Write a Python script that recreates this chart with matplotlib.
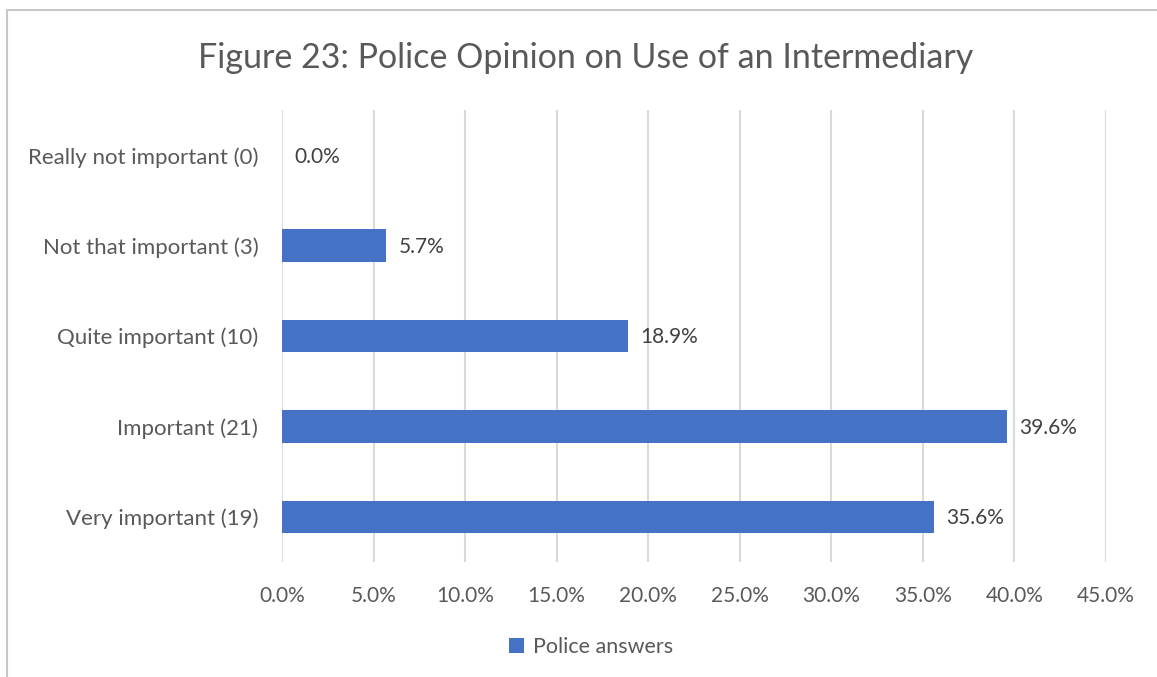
import matplotlib.pyplot as plt
from matplotlib.lines import Line2D
from matplotlib.ticker import FuncFormatter, MultipleLocator

TITLE = "Figure 23: Police Opinion on Use of an Intermediary"
SERIES_NAME = "Police answers"
CATEGORIES = [
    "Very important (19)",
    "Important (21)",
    "Quite important (10)",
    "Not that important (3)",
    "Really not important (0)",
]
PERCENTAGES = [35.6, 39.6, 18.9, 5.7, 0.0]

BAR_COLOR = "#4472C4"
TEXT_COLOR = "#595959"
GRID_COLOR = "#D9D9D9"

plt.rcParams["font.family"] = ["Lato", "DejaVu Sans"]

fig = plt.figure(figsize=(11.57, 6.77), dpi=100)
ax = fig.add_axes([0.2437, 0.1699, 0.9559 - 0.2437, 0.8375 - 0.1699])

# Bars and value labels
y_pos = list(range(len(CATEGORIES)))
bars = ax.barh(y_pos, PERCENTAGES, height=0.36, color=BAR_COLOR,
               label=SERIES_NAME, zorder=3)
for bar, value in zip(bars, PERCENTAGES):
    ax.annotate(f"{value:.1f}%", (bar.get_width(), bar.get_y() + bar.get_height() / 2),
                xytext=(9, -1), textcoords="offset points", va="center", ha="left",
                fontsize=15, color="#404040")

# Axes styling
ax.set_xlim(0, 45)
ax.set_ylim(-0.5, len(CATEGORIES) - 0.5)
ax.xaxis.set_major_locator(MultipleLocator(5))
ax.xaxis.set_major_formatter(FuncFormatter(lambda v, _: f"{v:.1f}%"))
ax.set_yticks(y_pos)
ax.set_yticklabels(CATEGORIES)
ax.tick_params(axis="both", length=0, colors=TEXT_COLOR)
ax.tick_params(axis="x", pad=17, labelsize=15)
ax.tick_params(axis="y", pad=17, labelsize=16)
ax.grid(axis="x", color=GRID_COLOR, linewidth=1.5, zorder=0)
for spine in ax.spines.values():
    spine.set_visible(False)

# Title and legend
fig.text(0.5065, 1 - 58 / 677, TITLE, ha="center", va="center",
         fontsize=24.5, color=TEXT_COLOR)
fig.legend(loc="center", bbox_to_anchor=(591 / 1157, 1 - 647 / 677), frameon=False,
           fontsize=15.5, labelcolor=TEXT_COLOR, handlelength=0.7,
           handleheight=0.7, handletextpad=0.4)

# Chart frame (only left and top edges visible)
fig.add_artist(Line2D([7 / 1157, 7 / 1157], [0, 1 - 10 / 677],
                      transform=fig.transFigure, color="#C8C8C8", linewidth=1.5))
fig.add_artist(Line2D([7 / 1157, 1], [1 - 10 / 677, 1 - 10 / 677],
                      transform=fig.transFigure, color="#C8C8C8", linewidth=1.5))

fig.savefig("out.png", dpi=100)
